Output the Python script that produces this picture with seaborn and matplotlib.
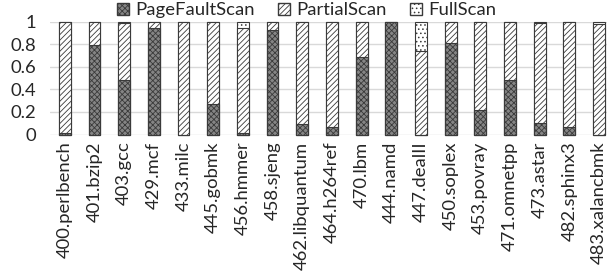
import numpy as np
import pandas as pd
import matplotlib
matplotlib.use("Agg")
import matplotlib.pyplot as plt
import seaborn as sns
from matplotlib.patches import Patch

# ── Data ─────────────────────────────────────────────────────────────────────
benchmarks = [
    "400.perlbench", "401.bzip2", "403.gcc", "429.mcf", "433.milc",
    "445.gobmk", "456.hmmer", "458.sjeng", "462.libquantum", "464.h264ref",
    "470.lbm", "444.namd", "447.dealII", "450.soplex", "453.povray",
    "471.omnetpp", "473.astar", "482.sphinx3", "483.xalancbmk",
]
page_fault = [0.015, 0.79, 0.485, 0.94, 0.0, 0.27, 0.01, 0.93, 0.09, 0.07,
              0.69, 1.0, 0.0, 0.81, 0.22, 0.48, 0.10, 0.07, 0.0]
partial = [0.985, 0.21, 0.505, 0.06, 1.0, 0.73, 0.93, 0.07, 0.91, 0.93,
           0.31, 0.0, 0.74, 0.19, 0.78, 0.52, 0.89, 0.93, 0.98]
full = [0.0, 0.0, 0.01, 0.0, 0.0, 0.0, 0.06, 0.0, 0.0, 0.0,
        0.0, 0.0, 0.26, 0.0, 0.0, 0.0, 0.01, 0.0, 0.02]

df = pd.DataFrame({"bench": benchmarks, "pf": page_fault,
                   "partial": partial, "full": full})
df["cum_partial"] = df["pf"] + df["partial"]
df["cum_full"] = df["cum_partial"] + df["full"]

# ── Styles ───────────────────────────────────────────────────────────────────
sns.set_style("white")
plt.rcParams["font.family"] = ["Lato", "DejaVu Sans"]
plt.rcParams["hatch.linewidth"] = 0.6

FS = 13.3
EDGE = "#3a3a3a"
layers = [
    # (column, label, face, hatch) drawn back to front
    ("cum_full", "FullScan", "white", "...."),
    ("cum_partial", "PartialScan", "white", "//////"),
    ("pf", "PageFaultScan", "#858585", "xxxxxx"),
]

fig = plt.figure(figsize=(6.07, 2.71), dpi=100)
ax = fig.add_axes([50 / 607, 1 - 134.5 / 271, 557 / 607, 112.8 / 271])

for col, label, face, hatch in layers:
    n_before = len(ax.patches)
    sns.barplot(data=df, x="bench", y=col, ax=ax, color=face,
                width=0.4, edgecolor=EDGE, linewidth=0.8,
                saturation=1, errorbar=None)
    for p in ax.patches[n_before:]:
        p.set_facecolor(face)
        p.set_hatch(hatch)
        p.set_clip_on(False)

ax.set_ylim(0, 1)
ax.set_xlim(-0.5, 18.27)
ax.set_yticks([0, 0.2, 0.4, 0.6, 0.8, 1.0])
ax.set_yticklabels(["0", "0.2", "0.4", "0.6", "0.8", "1"])
ax.yaxis.grid(True, color="#d9d9d9", linewidth=1)
ax.set_axisbelow(True)
sns.despine(ax=ax, left=True, bottom=True)
ax.set_xlabel("")
ax.set_ylabel("")
ax.tick_params(axis="x", rotation=90, labelsize=FS, length=0, pad=5)
ax.tick_params(axis="y", labelsize=FS, length=0, pad=10)

handles = [
    Patch(facecolor="#858585", edgecolor=EDGE, hatch="xxxxxx", label="PageFaultScan"),
    Patch(facecolor="white", edgecolor=EDGE, hatch="//////", label="PartialScan"),
    Patch(facecolor="white", edgecolor=EDGE, hatch="....", label="FullScan"),
]
fig.legend(handles=handles, loc="center", bbox_to_anchor=(0.505, 0.962),
           ncol=3, frameon=False, fontsize=FS, handlelength=0.65,
           handleheight=0.6, handletextpad=0.3, columnspacing=1.3,
           borderpad=0, borderaxespad=0)

plt.savefig("out.png", dpi=100)
